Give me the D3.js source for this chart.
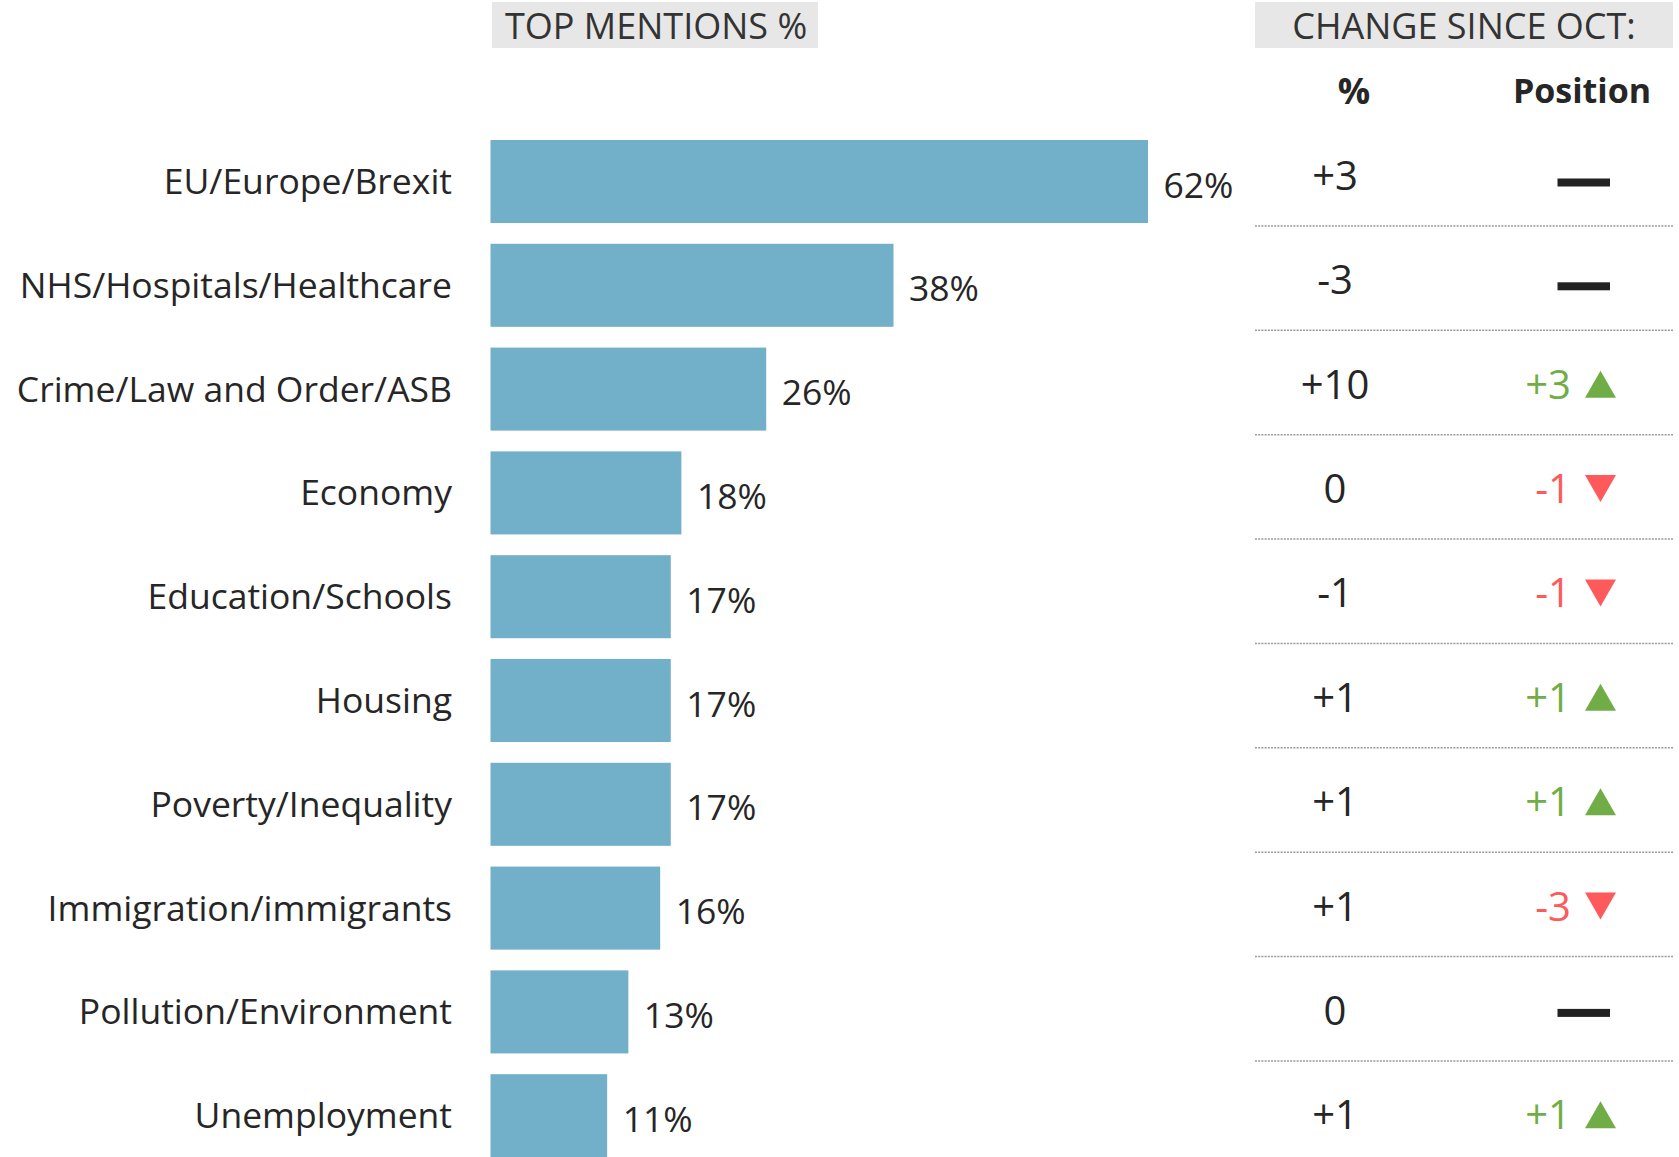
<!DOCTYPE html>
<html>
<head>
<meta charset="utf-8">
<script src="https://cdn.jsdelivr.net/npm/d3@7"></script>
<style>
  body { margin: 0; background: #ffffff; }
  text { font-family: "Open Sans", "Noto Sans", sans-serif; fill: #262626; }
</style>
</head>
<body>
<div class="chart"></div>
<script>
// data
var categories = [
  "EU/Europe/Brexit",
  "NHS/Hospitals/Healthcare",
  "Crime/Law and Order/ASB",
  "Economy",
  "Education/Schools",
  "Housing",
  "Poverty/Inequality",
  "Immigration/immigrants",
  "Pollution/Environment",
  "Unemployment"
];
var mentions = [62, 38, 26, 18, 17, 17, 17, 16, 13, 11];
var pctChange = [3, -3, 10, 0, -1, 1, 1, 1, 0, 1];
var positionChange = [0, 0, 3, -1, -1, 1, 1, -3, 0, 1];

var svgWidth = 1679;
var svgHeight = 1157;

var green = "#70ad47";
var red = "#fe5a5c";
var barColor = "#71b0c8";

var svg = d3
  .select(".chart")
  .append("svg")
  .attr("width", svgWidth)
  .attr("height", svgHeight);

var rows = categories.map(function(c, i) {
  return { cat: c, value: mentions[i], pct: pctChange[i], pos: positionChange[i] };
});

// scales
var xScale = d3.scaleLinear()
  .domain([0, 62])
  .range([490.5, 1148]);

var yBar = d3.scaleBand()
  .domain(categories)
  .range([129.6, 1167.6])
  .paddingInner(0.2)
  .paddingOuter(0.1);

// the table on the right runs on a slightly different pitch
var yRow = d3.scalePoint()
  .domain(categories)
  .range([175, 1114.3]);

function signed(v) {
  return v > 0 ? "+" + v : String(v);
}

/***************************************************************************/
// header boxes
svg.append("rect")
  .attr("x", 492)
  .attr("y", 2)
  .attr("width", 326)
  .attr("height", 46)
  .attr("fill", "#e7e7e7");

svg.append("text")
  .attr("x", 505)
  .attr("y", 38.5)
  .style("font-size", "36px")
  .style("fill", "#333")
  .text("TOP MENTIONS %");

svg.append("rect")
  .attr("x", 1255)
  .attr("y", 2)
  .attr("width", 418)
  .attr("height", 46)
  .attr("fill", "#e7e7e7");

svg.append("text")
  .attr("x", 1464)
  .attr("y", 39)
  .attr("text-anchor", "middle")
  .style("font-size", "36px")
  .style("fill", "#333")
  .text("CHANGE SINCE OCT:");

svg.append("text")
  .attr("x", 1354)
  .attr("y", 104)
  .attr("text-anchor", "middle")
  .style("font-size", "36px")
  .style("font-weight", "bold")
  .text("%");

svg.append("text")
  .attr("x", 1582)
  .attr("y", 103)
  .attr("text-anchor", "middle")
  .style("font-size", "34px")
  .style("font-weight", "bold")
  .text("Position");

/***************************************************************************/
// bars
svg.append("g")
  .selectAll("rect")
  .data(rows)
  .enter()
  .append("rect")
  .attr("x", xScale(0))
  .attr("y", d => yBar(d.cat))
  .attr("width", d => xScale(d.value) - xScale(0))
  .attr("height", yBar.bandwidth())
  .attr("fill", barColor);

// category labels
svg.append("g")
  .selectAll("text")
  .data(rows)
  .enter()
  .append("text")
  .attr("x", 452)
  .attr("y", d => yBar(d.cat) + yBar.bandwidth() / 2 + 12.5)
  .attr("text-anchor", "end")
  .style("font-size", "35.5px")
  .text(d => d.cat);

// value labels
svg.append("g")
  .selectAll("text")
  .data(rows)
  .enter()
  .append("text")
  .attr("x", d => xScale(d.value) + 15.5)
  .attr("y", d => yBar(d.cat) + yBar.bandwidth() / 2 + 16)
  .style("font-size", "35.5px")
  .text(d => d.value + "%");

/***************************************************************************/
// change table
// dotted separators between rows
svg.append("g")
  .selectAll("line")
  .data(rows.slice(0, rows.length - 1))
  .enter()
  .append("line")
  .attr("x1", 1255)
  .attr("x2", 1673)
  .attr("y1", d => yRow(d.cat) + 51)
  .attr("y2", d => yRow(d.cat) + 51)
  .attr("stroke", "#9a9a9a")
  .attr("stroke-width", 1.5)
  .attr("stroke-dasharray", "2 1.2");

// % change
svg.append("g")
  .selectAll("text")
  .data(rows)
  .enter()
  .append("text")
  .attr("x", 1335)
  .attr("y", d => yRow(d.cat) + 15)
  .attr("text-anchor", "middle")
  .style("font-size", "40px")
  .text(d => signed(d.pct));

// position change: dash when unchanged, coloured number + triangle otherwise
var posGroup = svg.append("g");

posGroup.selectAll("rect")
  .data(rows.filter(d => d.pos === 0))
  .enter()
  .append("rect")
  .attr("x", 1557.5)
  .attr("y", d => yBar(d.cat) + yBar.bandwidth() / 2 - 3)
  .attr("width", 52.5)
  .attr("height", 8)
  .attr("fill", "#222");

var moved = rows.filter(d => d.pos !== 0);

posGroup.selectAll("text")
  .data(moved)
  .enter()
  .append("text")
  .attr("x", 1571)
  .attr("y", d => yRow(d.cat) + 15)
  .attr("text-anchor", "end")
  .style("font-size", "40px")
  .style("fill", d => d.pos > 0 ? green : red)
  .text(d => signed(d.pos));

posGroup.selectAll("path")
  .data(moved)
  .enter()
  .append("path")
  .attr("d", function(d) {
    var cy = yRow(d.cat) + 0.5;
    var h = 13.5;
    if (d.pos > 0) {
      return "M1585," + (cy + h) + "L1616," + (cy + h) + "L1600.5," + (cy - h) + "Z";
    }
    return "M1585," + (cy - h) + "L1616," + (cy - h) + "L1600.5," + (cy + h) + "Z";
  })
  .attr("fill", d => d.pos > 0 ? green : red);
</script>
</body>
</html>
